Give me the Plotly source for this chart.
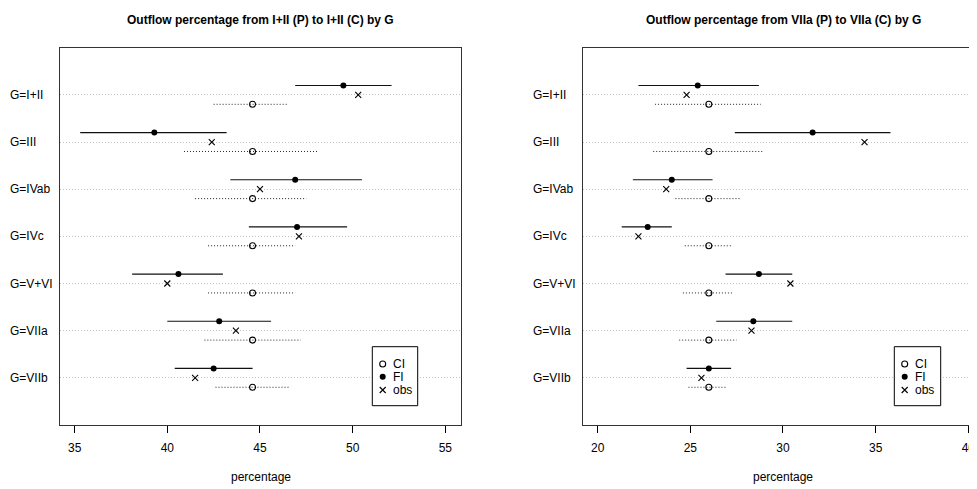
import plotly.graph_objects as go

# ---------------- data ----------------
groups = ["G=I+II", "G=III", "G=IVab", "G=IVc", "G=V+VI", "G=VIIa", "G=VIIb"]

title_1 = "Outflow percentage from I+II (P) to I+II (C) by G"
fi_pt_1 = [49.5, 39.3, 46.9, 47.0, 40.6, 42.8, 42.5]
fi_lo_1 = [46.9, 35.3, 43.4, 44.4, 38.1, 40.0, 40.4]
fi_hi_1 = [52.1, 43.2, 50.5, 49.7, 43.0, 45.6, 44.6]
obs_1 = [50.3, 42.4, 45.0, 47.1, 40.0, 43.7, 41.5]
ci_pt_1 = [44.6, 44.6, 44.6, 44.6, 44.6, 44.6, 44.6]
ci_lo_1 = [42.5, 40.9, 41.5, 42.2, 42.2, 42.0, 42.6]
ci_hi_1 = [46.5, 48.1, 47.5, 46.9, 46.9, 47.2, 46.6]
ticks_1 = [35, 40, 45, 50, 55]

title_2 = "Outflow percentage from VIIa (P) to VIIa (C) by G"
fi_pt_2 = [25.4, 31.6, 24.0, 22.7, 28.7, 28.4, 26.0]
fi_lo_2 = [22.2, 27.4, 21.9, 21.3, 26.9, 26.4, 24.8]
fi_hi_2 = [28.7, 35.8, 26.2, 24.0, 30.5, 30.5, 27.2]
obs_2 = [24.8, 34.4, 23.7, 22.2, 30.4, 28.3, 25.6]
ci_pt_2 = [26.0, 26.0, 26.0, 26.0, 26.0, 26.0, 26.0]
ci_lo_2 = [23.1, 23.0, 24.2, 24.7, 24.6, 24.4, 24.9]
ci_hi_2 = [28.8, 28.9, 27.7, 27.2, 27.3, 27.5, 26.9]
ticks_2 = [20, 25, 30, 35, 40]

legend_labels = ["CI", "FI", "obs"]
x_label = "percentage"

# ---------------- layout geometry (screen pixels, page has an 8px body margin) ----------------
W, H = 977, 489
OFS = 8
FONT = "Liberation Sans, Arial, Helvetica, sans-serif"
px = lambda v: (v - OFS) / W
py = lambda v: (H - (v - OFS)) / H

rows = [i + 1 for i in range(len(groups))]
OFF = 0.2

fig = go.Figure()


def segs(lo, hi, ys):
    xs, yy = [], []
    for a, b, y in zip(lo, hi, ys):
        xs += [a, b, None]
        yy += [y, y, None]
    return xs, yy


def panel(n, fi_pt, fi_lo, fi_hi, obs, ci_pt, ci_lo, ci_hi):
    xa = "x" if n == 1 else "x2"
    ya = "y" if n == 1 else "y2"
    fy = [r - OFF for r in rows]
    cy = [r + OFF for r in rows]
    x, y = segs(fi_lo, fi_hi, fy)
    fig.add_trace(go.Scatter(x=x, y=y, mode="lines", xaxis=xa, yaxis=ya,
                             line=dict(color="#111", width=1.1), showlegend=False, hoverinfo="skip"))
    x, y = segs(ci_lo, ci_hi, cy)
    fig.add_trace(go.Scatter(x=x, y=y, mode="lines", xaxis=xa, yaxis=ya,
                             line=dict(color="#222", width=1, dash="1px,2px"), showlegend=False, hoverinfo="skip"))
    fig.add_trace(go.Scatter(x=fi_pt, y=fy, mode="markers", xaxis=xa, yaxis=ya, showlegend=False,
                             marker=dict(symbol="circle", size=6, color="black")))
    fig.add_trace(go.Scatter(x=ci_pt, y=cy, mode="markers", xaxis=xa, yaxis=ya, showlegend=False,
                             marker=dict(symbol="circle-open", size=6, color="black", line=dict(width=1.1))))
    fig.add_trace(go.Scatter(x=obs, y=rows, mode="markers", xaxis=xa, yaxis=ya, showlegend=False,
                             marker=dict(symbol="x-thin-open", size=6, color="black", line=dict(width=1.1, color="black"))))


panel(1, fi_pt_1, fi_lo_1, fi_hi_1, obs_1, ci_pt_1, ci_lo_1, ci_hi_1)
panel(2, fi_pt_2, fi_lo_2, fi_hi_2, obs_2, ci_pt_2, ci_lo_2, ci_hi_2)

# legend boxes drawn as small subplots
leg_syms = [dict(symbol="circle-open", size=6, color="black", line=dict(width=1.1)),
            dict(symbol="circle", size=6, color="black"),
            dict(symbol="x-thin-open", size=6, color="black", line=dict(width=1.1, color="black"))]
leg_y = [17.3, 30.0, 43.3]
for k, (lx0, lx1) in enumerate([(372.3, 417.7), (894.3, 940.7)]):
    xa = "x%d" % (k + 3)
    ya = "y%d" % (k + 3)
    for s, lab, yy in zip(leg_syms, legend_labels, leg_y):
        fig.add_trace(go.Scatter(x=[10.4], y=[yy], mode="markers", xaxis=xa, yaxis=ya,
                                 marker=s, showlegend=False, hoverinfo="skip"))
        fig.add_annotation(x=18.5, y=yy, xref=xa, yref=ya, text=lab, showarrow=False,
                           xanchor="left", yanchor="middle", font=dict(size=12, family=FONT, color="black"))
    fig.add_shape(type="rect", xref="paper", yref="paper", x0=px(lx0), x1=px(lx1),
                  y0=py(405.7), y1=py(346.7), line=dict(color="black", width=1))

ydom = [py(425), py(47.7)]
common_y = dict(range=[8, 0], tickvals=rows, showticklabels=False, ticks="",
                showgrid=True, gridcolor="#c4c4c4", griddash="1px,2px", gridwidth=1,
                zeroline=False, showline=True, linecolor="#333", linewidth=1)
common_x = dict(ticks="outside", ticklen=7, tickcolor="black", tickwidth=1,
                showgrid=False, zeroline=False, showline=True, linecolor="#333", linewidth=1,
                ticklabelstandoff=5, ticklabeloverflow="allow",
                tickfont=dict(size=12, family=FONT, color="black"))

fig.update_layout(
    width=W, height=H, margin=dict(l=0, r=0, t=0, b=0),
    paper_bgcolor="white", plot_bgcolor="white", showlegend=False,
    xaxis=dict(domain=[px(60), px(460.7)], range=[34.21, 55.83], tickvals=ticks_1,
               mirror=True, anchor="y", **common_x),
    yaxis=dict(domain=ydom, anchor="x", mirror=True, **common_y),
    xaxis2=dict(domain=[px(583), px(983.7)], range=[19.21, 40.83], tickvals=ticks_2,
                mirror=True, anchor="y2", **common_x),
    yaxis2=dict(domain=ydom, anchor="x2", mirror=False, **common_y),
    xaxis3=dict(domain=[px(372.3), px(417.7)], range=[0, 45.4], visible=False, anchor="y3"),
    yaxis3=dict(domain=[py(405.7), py(346.7)], range=[59, 0], visible=False, anchor="x3"),
    xaxis4=dict(domain=[px(894.3), px(940.7)], range=[0, 46.4], visible=False, anchor="y4"),
    yaxis4=dict(domain=[py(405.7), py(346.7)], range=[59, 0], visible=False, anchor="x4"),
    font=dict(family=FONT, size=12, color="black"),
)

# titles, axis titles, group labels
for cx, t in [(260.5, title_1), (783, title_2)]:
    fig.add_annotation(x=px(cx), y=py(20), xref="paper", yref="paper", text="<b>%s</b>" % t,
                       showarrow=False, xanchor="center", yanchor="middle",
                       font=dict(size=12, family=FONT, color="black"))
for cx in [260.5, 783]:
    fig.add_annotation(x=px(cx), y=py(477), xref="paper", yref="paper", text=x_label,
                       showarrow=False, xanchor="center", yanchor="middle",
                       font=dict(size=12, family=FONT, color="black"))
for lx, ya in [(9.3, "y"), (532.3, "y2")]:
    for g, r in zip(groups, rows):
        fig.add_annotation(x=px(lx), y=r, xref="paper", yref=ya, text=g, showarrow=False,
                           xanchor="left", yanchor="middle", xshift=-1,
                           font=dict(size=12, family=FONT, color="black"))

fig.write_html("out.html")
